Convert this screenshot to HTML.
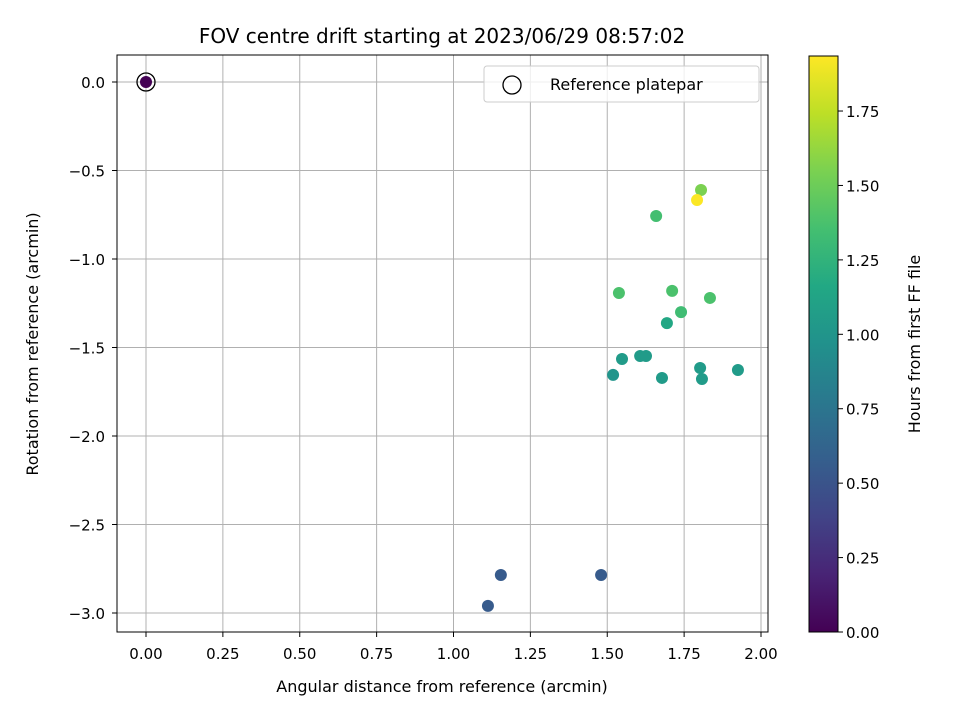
<!DOCTYPE html>
<html><head><meta charset="utf-8"><style>
body{margin:0;background:#fff}
svg{font-family:"DejaVu Sans","Liberation Sans",sans-serif}
</style></head><body>
<svg id="chart" width="960" height="720" viewBox="0 0 960 720">
<defs>
<linearGradient id="vir" x1="0" y1="1" x2="0" y2="0">
<stop offset="0" stop-color="#440154"/><stop offset="0.1" stop-color="#482475"/><stop offset="0.2" stop-color="#414487"/><stop offset="0.3" stop-color="#355f8d"/><stop offset="0.4" stop-color="#2a788e"/><stop offset="0.5" stop-color="#21918c"/><stop offset="0.6" stop-color="#22a884"/><stop offset="0.7" stop-color="#44bf70"/><stop offset="0.8" stop-color="#7ad151"/><stop offset="0.9" stop-color="#bddf26"/><stop offset="1" stop-color="#fde725"/>
</linearGradient>
</defs>
<text x="442" y="43" text-anchor="middle" font-size="20">FOV centre drift starting at 2023/06/29 08:57:02</text>
<g id="grid"></g>
<g id="pts"></g>
<rect x="117" y="55" width="651" height="577" fill="none" stroke="#000" stroke-width="1"/>
<g id="xt"></g><g id="yt"></g>
<text x="442" y="692" text-anchor="middle" font-size="16">Angular distance from reference (arcmin)</text>
<text transform="translate(38,344) rotate(-90)" text-anchor="middle" font-size="16">Rotation from reference (arcmin)</text>
<g>
<rect x="484" y="66" width="275" height="36" rx="3" fill="#fff" fill-opacity="0.8" stroke="#ccc"/>
<circle cx="512" cy="85" r="9" fill="none" stroke="#000" stroke-width="1.3"/>
<text x="550" y="90" font-size="16">Reference platepar</text>
</g>
<rect x="809" y="56" width="29" height="576" fill="url(#vir)" stroke="#000" stroke-width="1"/>
<g id="ct"></g>
<text transform="translate(920,344) rotate(-90)" text-anchor="middle" font-size="16">Hours from first FF file</text>
</svg>
<script>
const xs=[1.805,1.792,1.659,1.538,1.711,1.834,1.74,1.694,1.607,1.626,1.548,1.519,1.678,1.802,1.808,1.925,1.154,1.48,1.112,0];
const ys=[-0.61,-0.667,-0.757,-1.192,-1.18,-1.22,-1.30,-1.362,-1.548,-1.548,-1.565,-1.655,-1.672,-1.616,-1.678,-1.627,-2.785,-2.785,-2.96,0];
const hours=[1.55,1.93,1.35,1.38,1.38,1.38,1.33,1.15,1.05,1.05,1.05,1.0,1.05,1.05,1.05,1.05,0.55,0.55,0.55,0];
const xTicks=["0.00","0.25","0.50","0.75","1.00","1.25","1.50","1.75","2.00"];
const yTicks=["0.0","−0.5","−1.0","−1.5","−2.0","−2.5","−3.0"];
const cTicks=["0.00","0.25","0.50","0.75","1.00","1.25","1.50","1.75"];
const NS="http://www.w3.org/2000/svg";
const X=v=>146+v*307.5, Y=v=>82-v*177, C=v=>632-v*297.7, CMAX=1.935;
const stops=["#440154","#482475","#414487","#355f8d","#2a788e","#21918c","#22a884","#44bf70","#7ad151","#bddf26","#fde725"];
function vir(t){t=Math.max(0,Math.min(1,t))*10;const i=Math.min(9,Math.floor(t)),f=t-i;
const a=stops[i],b=stops[i+1];const p=(s,k)=>parseInt(s.substr(1+2*k,2),16);
let r=[0,1,2].map(k=>Math.round(p(a,k)+(p(b,k)-p(a,k))*f));return `rgb(${r})`;}
function mk(t,at,par){const e=document.createElementNS(NS,t);for(const k in at)e.setAttribute(k,at[k]);document.getElementById(par).appendChild(e);return e;}
xTicks.forEach(s=>{const x=X(parseFloat(s));
const g=mk('line',{x1:x,x2:x,y1:55,y2:632,stroke:'#b0b0b0','stroke-width':1},'grid');


mk('line',{x1:x,x2:x,y1:632,y2:637,stroke:'#000'},'xt');
const t=mk('text',{x:x,y:659,'text-anchor':'middle','font-size':15},'xt');t.textContent=s;

});
yTicks.forEach(s=>{const y=Y(parseFloat(s.replace('−','-')));
const g=mk('line',{x1:117,x2:768,y1:y,y2:y,stroke:'#b0b0b0','stroke-width':1},'grid');


mk('line',{x1:112,x2:117,y1:y,y2:y,stroke:'#000'},'yt');
const t=mk('text',{x:105,y:y+6,'text-anchor':'end','font-size':15},'yt');t.textContent=s;

});
cTicks.forEach(s=>{const y=C(parseFloat(s));
mk('line',{x1:838,x2:843,y1:y,y2:y,stroke:'#000'},'ct');
const t=mk('text',{x:846,y:y+6,'font-size':15},'ct');t.textContent=s;

});
xs.forEach((v,i)=>{const c=mk('circle',{cx:X(v),cy:Y(ys[i]),r:6,fill:vir(hours[i]/CMAX)},'pts');

});
const r=mk('circle',{cx:X(0),cy:Y(0),r:9,fill:'none',stroke:'#000','stroke-width':1.3},'pts');


</script>
</body></html>
